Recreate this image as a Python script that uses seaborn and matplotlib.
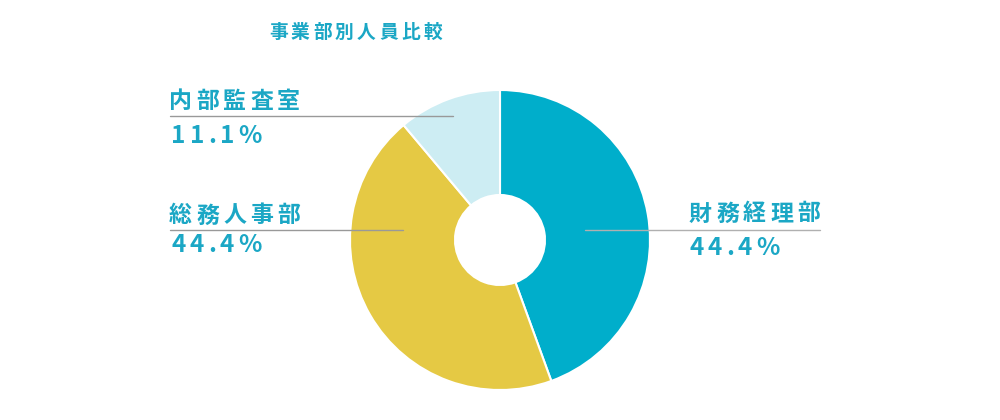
import matplotlib
matplotlib.use("Agg")
import matplotlib.pyplot as plt
import seaborn as sns

title = "事業部別人員比較"
departments = ["財務経理部", "総務人事部", "内部監査室"]
headcount = [4, 4, 1]
pct_labels = ["44.4%", "44.4%", "11.1%"]
colors = ["#00aecb", "#e5c944", "#cdedf3"]

sns.set_theme(style="white")
plt.rcParams['font.family'] = ['Noto Sans CJK JP', 'DejaVu Sans']

TXT = "#1ba7c5"
H = 420


def spaced(ax, x, y, s, pitch, size, narrow=None):
    # draw char by char to get the wide letter spacing
    narrow = narrow or {}
    for ch in s:
        ax.text(x, H - y, ch, fontsize=size, color=TXT,
                fontweight="bold", ha="left", va="center")
        x += narrow.get(ch, pitch)


fig = plt.figure(figsize=(10, 4.2), dpi=100)
ax = fig.add_axes([0, 0, 1, 1])

ax.pie(headcount, colors=colors, startangle=90, counterclock=False,
       center=(500, H - 240), radius=150,
       wedgeprops=dict(width=105, edgecolor="white", linewidth=1.5))

# pie resets the limits, so set them afterwards
ax.set_xlim(0, 1000)
ax.set_ylim(0, H)
ax.set_aspect("equal")
ax.axis("off")

spaced(ax, 269, 32, title, 22, 13.5)

dot = {".": 12}

# leader lines + labels
ax.plot([585, 820], [H - 230, H - 230], color="#b0b0b0", lw=1, zorder=5)
spaced(ax, 689, 214, departments[0], 27, 16.5)
spaced(ax, 689, 248, pct_labels[0], 18.5, 17.5, dot)

ax.plot([170, 403], [H - 230, H - 230], color="#999999", lw=1, zorder=5)
spaced(ax, 169, 216, departments[1], 27, 16.5)
spaced(ax, 171, 245, pct_labels[1], 18.5, 17.5, dot)

ax.plot([170, 453], [H - 116, H - 116], color="#999999", lw=1, zorder=5)
spaced(ax, 169, 102, departments[2], 27, 16.5)
spaced(ax, 171, 136, pct_labels[2], 18.5, 17.5, dot)

fig.savefig("out.png", dpi=100)
